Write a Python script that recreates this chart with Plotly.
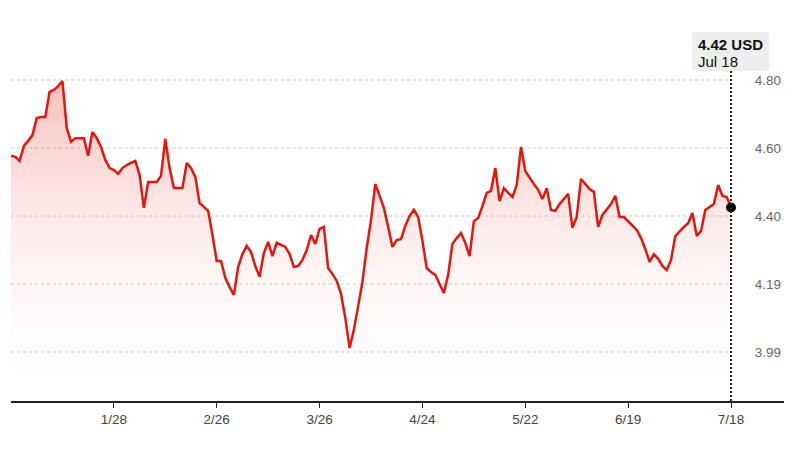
import plotly.graph_objects as go

# Daily closing prices (USD), oldest to newest
prices = [
    4.572, 4.569, 4.557, 4.601, 4.616, 4.633, 4.683, 4.686, 4.686, 4.760,
    4.766, 4.777, 4.792, 4.654, 4.613, 4.624, 4.624, 4.624, 4.572, 4.642,
    4.624, 4.598, 4.560, 4.536, 4.530, 4.519, 4.536, 4.545, 4.551, 4.557,
    4.516, 4.419, 4.495, 4.495, 4.495, 4.513, 4.622, 4.536, 4.477, 4.477,
    4.477, 4.551, 4.536, 4.510, 4.433, 4.422, 4.410, 4.339, 4.263, 4.263,
    4.213, 4.186, 4.163, 4.245, 4.283, 4.307, 4.289, 4.248, 4.216, 4.286,
    4.319, 4.277, 4.316, 4.310, 4.304, 4.283, 4.245, 4.248, 4.266, 4.295,
    4.339, 4.313, 4.357, 4.363, 4.242, 4.224, 4.204, 4.166, 4.095, 4.007,
    4.060, 4.130, 4.201, 4.301, 4.383, 4.489, 4.457, 4.419, 4.363, 4.304,
    4.324, 4.327, 4.366, 4.395, 4.413, 4.392, 4.322, 4.242, 4.230, 4.222,
    4.195, 4.169, 4.222, 4.313, 4.330, 4.345, 4.316, 4.277, 4.380, 4.389,
    4.424, 4.463, 4.469, 4.536, 4.439, 4.477, 4.463, 4.451, 4.486, 4.598,
    4.527, 4.507, 4.489, 4.472, 4.445, 4.477, 4.413, 4.410, 4.430, 4.445,
    4.460, 4.360, 4.392, 4.504, 4.489, 4.474, 4.466, 4.363, 4.398, 4.413,
    4.430, 4.454, 4.392, 4.392, 4.380, 4.366, 4.354, 4.330, 4.298, 4.260,
    4.283, 4.269, 4.248, 4.236, 4.266, 4.336, 4.351, 4.363, 4.374, 4.404,
    4.336, 4.351, 4.413, 4.422, 4.430, 4.486, 4.454, 4.451, 4.420,
]
x_index = list(range(len(prices)))

x_tick_index = [24, 48, 72, 96, 120, 144, 168]
x_tick_labels = ["1/28", "2/26", "3/26", "4/24", "5/22", "6/19", "7/18"]

y_tick_values = [3.995, 4.195, 4.395, 4.595, 4.795]
y_tick_labels = ["3.99", "4.19", "4.40", "4.60", "4.80"]

last_label = "Jul 18"
currency = "USD"

RED = "#e3170d"
last_i = x_index[-1]

# page offset (default body margin of the html page)
OFF = 8
FIG_W, FIG_H = 809 - OFF, 458 - OFF

fig = go.Figure()

fig.add_trace(go.Scatter(
    x=x_index, y=prices, mode="lines",
    line=dict(color=RED, width=2.5),
    fill="tozeroy",
    fillgradient=dict(
        type="vertical", start=3.85, stop=4.80,
        colorscale=[[0, "rgba(255,255,255,0)"], [1, "rgba(236,96,86,0.42)"]],
    ),
    hoverinfo="skip", showlegend=False,
))

fig.add_trace(go.Scatter(
    x=[last_i], y=[prices[-1]], mode="markers",
    marker=dict(color="black", size=10),
    cliponaxis=False, showlegend=False, hoverinfo="skip",
))

shapes = []
for v in y_tick_values:
    shapes.append(dict(type="line", xref="x", yref="y", x0=0, x1=last_i, y0=v, y1=v,
                       line=dict(color="#c8c8c8", width=1, dash="3px,3px"), layer="below"))

# plot area in page pixels: x 11..784, y 40..401
PL, PR, PT, PB = 11, 784, 40, 401
W, H = PR - PL, PB - PT
def px(xp):
    return (xp - PL) / W
def py(yp):
    return (PB - yp) / H

# vertical dotted line at last point
shapes.append(dict(type="line", xref="x", yref="paper", x0=last_i, x1=last_i,
                   y0=0, y1=py(71), line=dict(color="#222", width=2, dash="2px,2px")))

# rounded label box
bx0, bx1, by0, by1, r = 692, 769, 32, 71, 4
path = (f"M {px(bx0+r)},{py(by0)} L {px(bx1-r)},{py(by0)} Q {px(bx1)},{py(by0)} {px(bx1)},{py(by0+r)} "
        f"L {px(bx1)},{py(by1-r)} Q {px(bx1)},{py(by1)} {px(bx1-r)},{py(by1)} "
        f"L {px(bx0+r)},{py(by1)} Q {px(bx0)},{py(by1)} {px(bx0)},{py(by1-r)} "
        f"L {px(bx0)},{py(by0+r)} Q {px(bx0)},{py(by0)} {px(bx0+r)},{py(by0)} Z")
shapes.append(dict(type="path", xref="paper", yref="paper", path=path,
                   fillcolor="#eeeeee", line=dict(width=0)))

annotations = [
    dict(xref="paper", yref="paper", x=px(696), y=py(45), xanchor="left", yanchor="middle",
         text=f"<b>{prices[-1]:.2f} {currency}</b>", showarrow=False,
         font=dict(family="Liberation Sans, Arial, sans-serif", size=15, color="#111")),
    dict(xref="paper", yref="paper", x=px(696), y=py(62), xanchor="left", yanchor="middle",
         text=last_label, showarrow=False,
         font=dict(family="Liberation Sans, Arial, sans-serif", size=15, color="#111")),
]

fig.update_layout(
    width=FIG_W, height=FIG_H,
    margin=dict(l=PL - OFF, r=FIG_W - (PR - OFF), t=PT - OFF, b=FIG_H - (PB - OFF)),
    paper_bgcolor="white", plot_bgcolor="white",
    shapes=shapes, annotations=annotations,
    showlegend=False,
    xaxis=dict(
        range=[0, last_i * W / 720],
        tickvals=x_tick_index, ticktext=x_tick_labels,
        showgrid=False, zeroline=False,
        showline=True, linecolor="#222", linewidth=1.5,
        ticks="outside", ticklen=5, tickcolor="#222", tickwidth=1,
        tickfont=dict(family="Liberation Sans, Arial, sans-serif", size=13.5, color="#444"),
    ),
    yaxis=dict(
        range=[3.995 - (PB - 352) / 340, 4.795 + (80 - PT) / 340],
        side="right", ticklabelposition="inside",
        tickvals=y_tick_values, ticktext=y_tick_labels,
        showgrid=False, zeroline=False, showline=False, ticks="",
        tickfont=dict(family="Liberation Sans, Arial, sans-serif", size=13.5, color="#666"),
    ),
)

fig.write_html("out.html")
